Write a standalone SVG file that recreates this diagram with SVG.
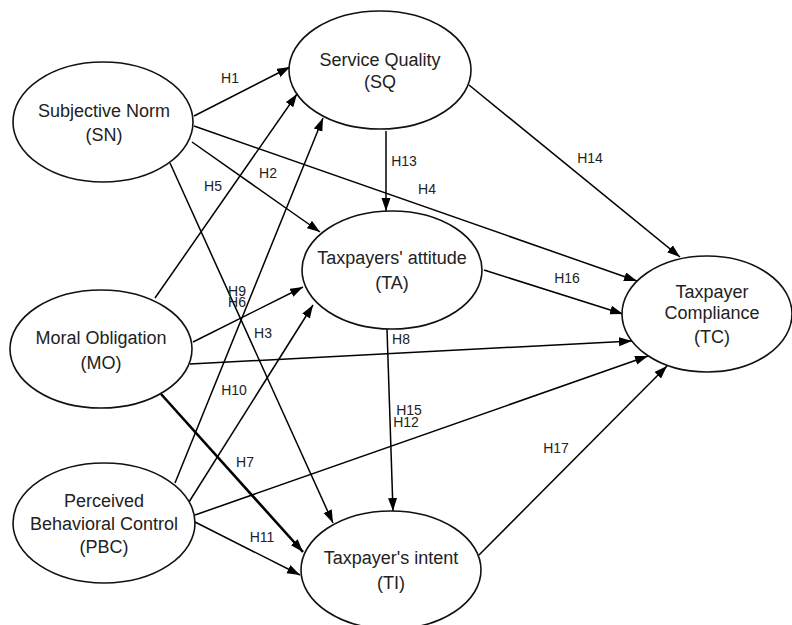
<svg xmlns="http://www.w3.org/2000/svg" width="792" height="625" viewBox="0 0 792 625">
<defs>
<marker id="ah" markerUnits="userSpaceOnUse" markerWidth="14" markerHeight="10" refX="13" refY="4.5" orient="auto">
<path d="M0,0 L13,4.5 L0,9 z" fill="#000"/>
</marker>
<style>
.node ellipse{fill:#fff;stroke:#111;stroke-width:1.6}
.node text{font-family:"Liberation Sans",Arial,sans-serif;font-size:18px;fill:#222;text-anchor:middle}
.edges line{stroke:#000;stroke-width:1.5;marker-end:url(#ah)}
.edges line.thick{stroke-width:2.6}
.lbl text{font-family:"Liberation Sans",Arial,sans-serif;font-size:14px;fill:#222;text-anchor:middle}
</style>
</defs>
<rect width="792" height="625" fill="#fff"/>
<g class="edges" id="connectors">
<line x1="194" y1="116" x2="290" y2="67"/>
<line x1="192" y1="142" x2="320" y2="232"/>
<line x1="170" y1="163" x2="333" y2="523"/>
<line x1="194" y1="126" x2="637" y2="281"/>
<line x1="155" y1="298" x2="297" y2="94"/>
<line x1="193" y1="342" x2="303" y2="287"/>
<line class="thick" x1="161" y1="394" x2="303" y2="552"/>
<line x1="190" y1="364" x2="632" y2="341"/>
<line x1="175" y1="483" x2="323" y2="118"/>
<line x1="189" y1="502" x2="313" y2="305"/>
<line x1="195" y1="522" x2="300" y2="575"/>
<line x1="195" y1="515" x2="648" y2="356"/>
<line x1="386" y1="131" x2="386" y2="211"/>
<line x1="469" y1="85" x2="680" y2="257"/>
<line x1="387" y1="329" x2="393" y2="511"/>
<line x1="484" y1="270" x2="623" y2="314"/>
<line x1="479" y1="555" x2="667" y2="366"/>
</g>
<g class="lbl" id="labels">
<text x="230" y="83">H1</text>
<text x="268" y="178">H2</text>
<text x="213" y="191">H5</text>
<text x="237" y="307">H6</text>
<text x="237" y="296">H9</text>
<text x="263" y="338">H3</text>
<text x="234" y="395">H10</text>
<text x="245" y="467">H7</text>
<text x="401" y="344">H8</text>
<text x="406" y="427">H12</text>
<text x="409" y="415">H15</text>
<text x="262" y="542">H11</text>
<text x="404" y="166">H13</text>
<text x="427" y="194">H4</text>
<text x="590" y="163">H14</text>
<text x="567" y="283">H16</text>
<text x="556" y="453">H17</text>
</g>
<g class="node" id="SN">
<ellipse cx="103" cy="122" rx="90" ry="60"/>
<text x="104" y="117">Subjective Norm</text>
<text x="104" y="141">(SN)</text>
</g>
<g class="node" id="SQ">
<ellipse cx="380" cy="70" rx="91" ry="59"/>
<text x="380" y="66">Service Quality</text>
<text x="380" y="88">(SQ</text>
</g>
<g class="node" id="TA">
<ellipse cx="392" cy="270" rx="90" ry="59"/>
<text x="392" y="264">Taxpayers' attitude</text>
<text x="392" y="289">(TA)</text>
</g>
<g class="node" id="TC">
<ellipse cx="707" cy="314" rx="85" ry="58"/>
<text x="712" y="298">Taxpayer</text>
<text x="712" y="319">Compliance</text>
<text x="712" y="343">(TC)</text>
</g>
<g class="node" id="MO">
<ellipse cx="101" cy="349" rx="91" ry="59"/>
<text x="101" y="344">Moral Obligation</text>
<text x="101" y="369">(MO)</text>
</g>
<g class="node" id="PBC">
<ellipse cx="104" cy="523" rx="91" ry="60"/>
<text x="104" y="507">Perceived</text>
<text x="104" y="530">Behavioral Control</text>
<text x="104" y="553">(PBC)</text>
</g>
<g class="node" id="TI">
<ellipse cx="391" cy="570" rx="90" ry="59"/>
<text x="391" y="564">Taxpayer's intent</text>
<text x="391" y="589">(TI)</text>
</g>
</svg>
